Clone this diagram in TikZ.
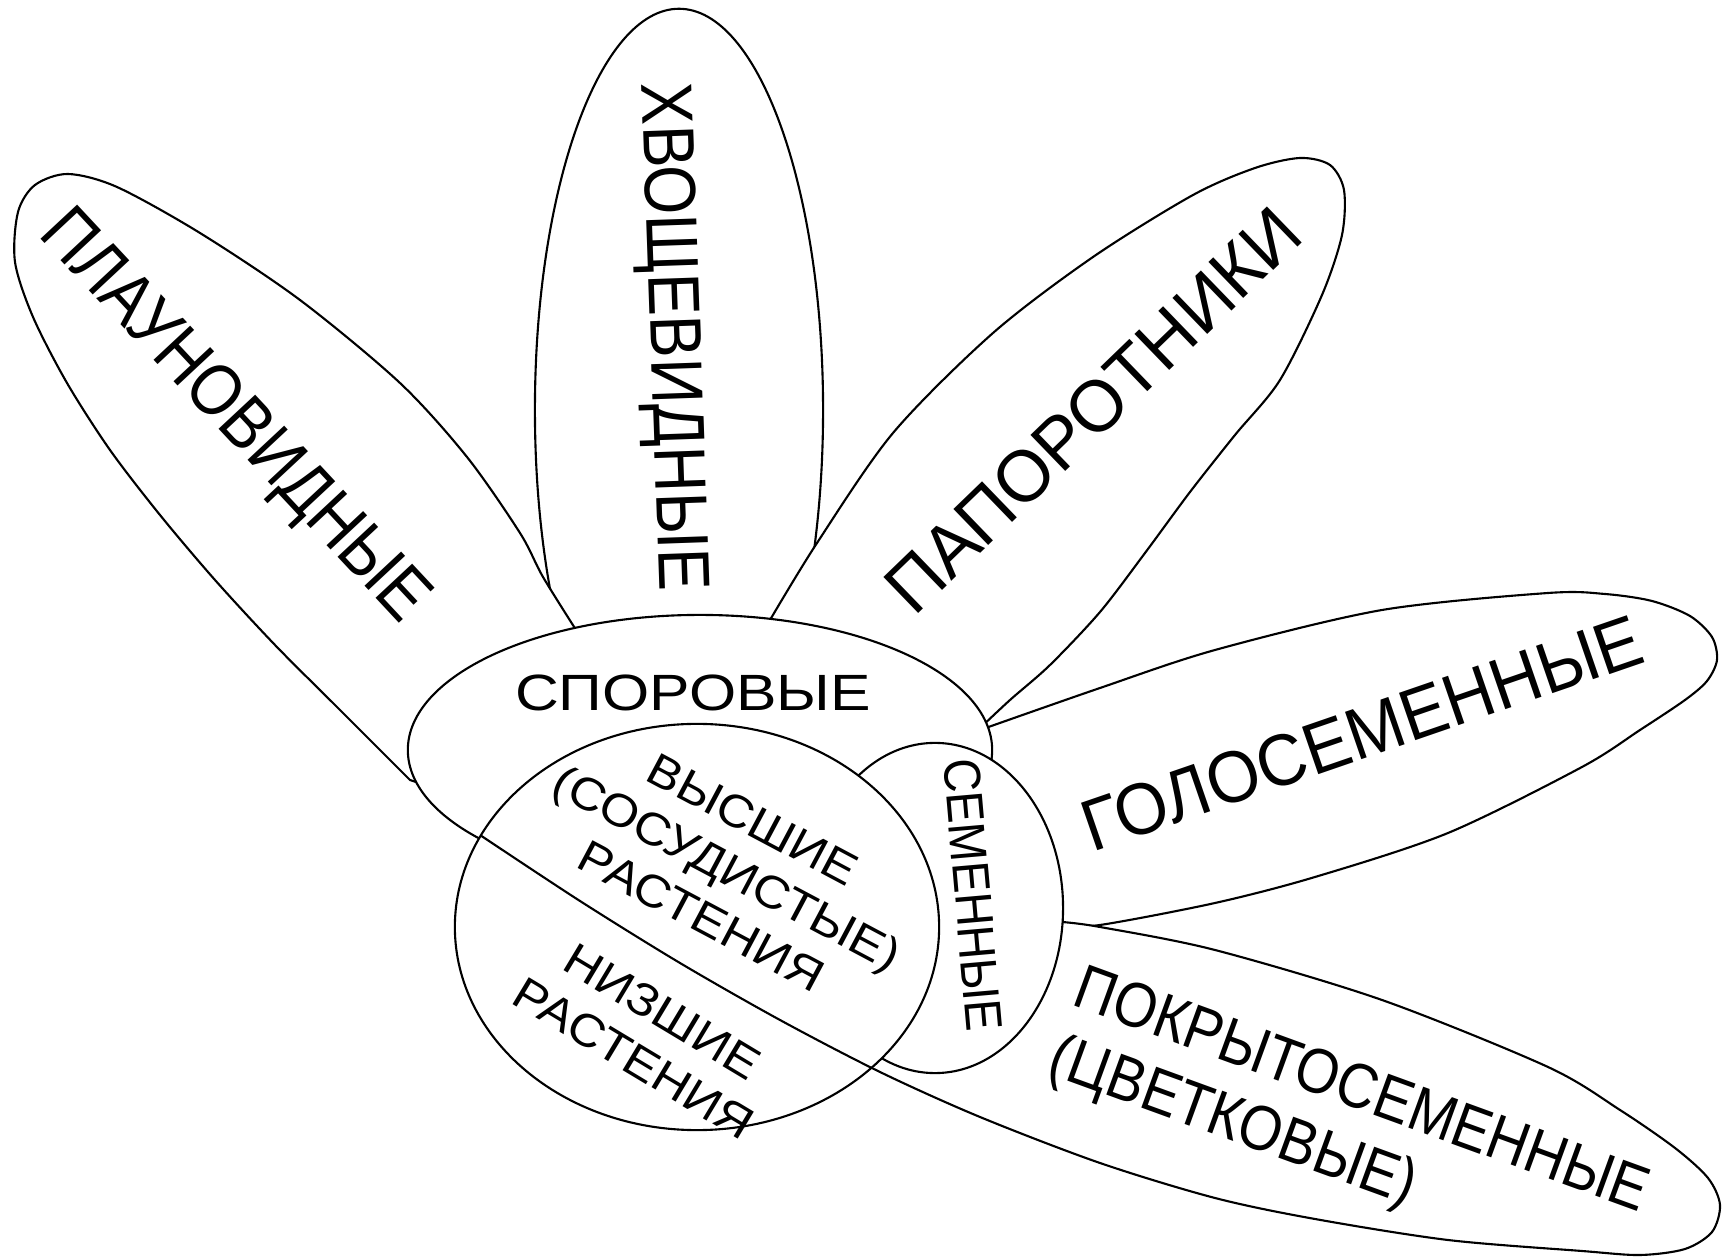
\documentclass[tikz,border=0pt]{standalone}
\usepackage{fontspec}
\setmainfont{Liberation Sans}
\usetikzlibrary{shapes.geometric}

% lower edge of the angiosperm petal, reused for the dividing line
\newcommand{\pokredge}{plot[smooth] coordinates {(1062,922) (1100,927) (1215,950) (1382,1000) (1548,1067) (1620,1110) (1675,1148) (1708,1178) (1720,1205) (1712,1232) (1685,1249) (1640,1255) (1582,1251) (1448,1240) (1315,1219) (1215,1198) (1100,1163) (980,1117) (880,1072) (780,1020) (680,963) (580,901) (480,835)}}

\begin{document}
\begin{tikzpicture}[
    x=0.01cm, y=-0.01cm,
    petal/.style={draw, fill=white, line width=0.6pt},
    part/.style={ellipse, draw, fill=white, line width=0.6pt, inner sep=0pt},
    lbl/.style={inner sep=0pt, font=\fontsize{20.7}{24}\selectfont},
    sublbl/.style={inner sep=0pt, align=center, font=\fontsize{13}{15.6}\selectfont}
]
    \useasboundingbox (0,0) rectangle (1735,1258);

    % Petals
    \node[part, minimum width=2.88cm, minimum height=8.02cm] (xvosch) at (679,410) {};
    \draw[petal] plot[smooth] coordinates {(410,780) (375,745) (335,705) (275,645) (215,580) (160,515) (110,450) (67,383) (33,317) (15,262) (18,212) (35,185) (68,174) (117,187) (200,233) (300,300) (400,383) (467,457) (520,533) (543,577) (578,633)} -- (620,740) -- (470,800) -- cycle;
    \draw[petal] plot[smooth] coordinates {(770,620) (817,543) (893,433) (993,333) (1093,257) (1193,195) (1255,168) (1300,158) (1330,165) (1344,190) (1342,235) (1322,295) (1280,380) (1235,435) (1190,492) (1145,553) (1100,612) (1050,665) (1010,700) (978,730)} -- (850,720) -- cycle;
    \draw[petal] plot[smooth] coordinates {(980,730) (1100,688) (1215,650) (1382,610) (1548,593) (1605,594) (1652,601) (1690,616) (1712,637) (1717,660) (1707,681) (1685,700) (1640,730) (1582,767) (1448,833) (1315,877) (1215,903) (1100,925) (1062,925)} -- (1000,900) -- (1000,780) -- cycle;
    \draw[petal] \pokredge -- (520,780) -- (700,690) -- (860,720) -- (960,800) -- (1000,900) -- cycle;

    % Centre
    \node[part, minimum width=5.84cm, minimum height=2.7cm] (spore) at (700,750) {};
    \node[part, minimum width=2.56cm, minimum height=3.3cm] (seed) at (935,908) {};
    \node[part, minimum width=4.84cm, minimum height=4.06cm] (vasc) at (697,927) {};

    % Higher / lower plants divide
    \begin{scope}
        \clip (vasc.center) ellipse [x radius=2.42cm, y radius=2.03cm];
        \draw[line width=0.6pt] \pokredge;
    \end{scope}

    % Labels
    \node[lbl, rotate=-47, xscale=0.865] (plaunlbl) at (233,418) {ПЛАУНОВИДНЫЕ};
    \node[lbl, rotate=-88, xscale=0.87] (xvoschlbl) at (669,337) {ХВОЩЕВИДНЫЕ};
    \node[lbl, rotate=44, xscale=0.98] (paporlbl) at (1093,410) {ПАПОРОТНИКИ};
    \node[lbl, rotate=19, xscale=0.94] (goloslbl) at (1362,733) {ГОЛОСЕМЕННЫЕ};
    \node[lbl, rotate=-20, xscale=0.88, align=left, font=\fontsize{18}{20.7}\selectfont] (pokrlbl) at (1348,1128) {ПОКРЫТОСЕМЕННЫЕ\\(ЦВЕТКОВЫЕ)};
    \node[lbl, rotate=-85, xscale=0.9, font=\fontsize{14.7}{17}\selectfont] (seedlbl) at (973,895) {СЕМЕННЫЕ};
    \node[lbl, xscale=1.19, font=\fontsize{14.5}{16}\selectfont] (sporelbl) at (693,693) {СПОРОВЫЕ};
    \node[sublbl, rotate=-28, xscale=1.1] (highlbl) at (727,868) {ВЫСШИЕ\\(СОСУДИСТЫЕ)\\РАСТЕНИЯ};
    \node[sublbl, rotate=-31, xscale=1.1] (lowlbl) at (648,1035) {НИЗШИЕ\\РАСТЕНИЯ};
\end{tikzpicture}
\end{document}
